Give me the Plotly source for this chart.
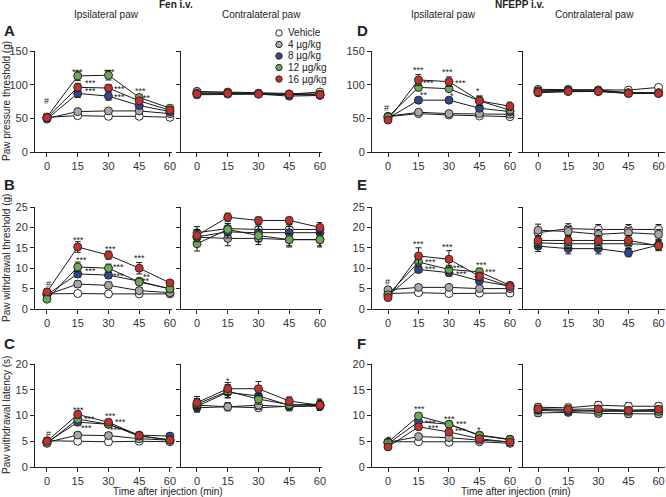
import plotly.graph_objects as go

W, H = 666, 497

times = [0, 15, 30, 45, 60]
tick_labels = ["0", "15", "30", "45", "60"]
groups = ["Vehicle", "4 µg/kg", "8 µg/kg", "12 µg/kg", "16 µg/kg"]
colors = ["#ffffff", "#a8a8a8", "#34458f", "#6aaa52", "#c4302b"]

# ---- Fen i.v. ----
A_ipsi = [[51.5, 54, 53, 53, 51.5], [50, 60, 61, 61, 57], [49, 87, 83, 69, 60],
          [52, 113, 114, 81, 65], [51, 96, 95, 76, 62]]
A_ipsi_err = [[2, 2, 2, 2, 2], [2, 3, 3, 3, 2], [2, 6, 6, 4, 3], [3, 7, 7, 4, 3], [3, 6, 5, 4, 3]]
A_contra = [[88, 87, 87, 86, 89], [90, 89, 87, 86, 86], [85, 86, 86, 83, 84],
            [87, 88, 87, 85, 85], [86, 87, 86, 86, 85]]
A_contra_err = [[3, 3, 3, 3, 3], [3, 3, 3, 3, 3], [3, 3, 3, 3, 3], [3, 3, 3, 3, 3], [3, 3, 3, 3, 3]]

B_ipsi = [[3.7, 3.8, 3.7, 3.7, 3.7], [3.5, 6.1, 5.8, 4.5, 4.0], [3.5, 8.6, 8.3, 6.8, 4.9],
          [2.4, 10.3, 10.0, 6.6, 5.0], [4.2, 15.2, 13.2, 10.0, 6.4]]
B_ipsi_err = [[0.3, 0.3, 0.3, 0.3, 0.3], [0.4, 0.8, 0.8, 0.6, 0.4], [0.5, 0.9, 0.8, 0.7, 0.5],
              [0.4, 1.2, 1.0, 0.7, 0.5], [0.5, 1.3, 1.0, 1.4, 0.6]]
B_contra = [[18.7, 19.7, 19.5, 19.5, 19.5], [17.6, 17.3, 17.3, 17.0, 17.0], [17.7, 18.9, 18.7, 18.7, 18.7],
            [16.0, 19.5, 18.0, 17.0, 17.0], [18.0, 22.5, 21.7, 21.7, 20.0]]
B_contra_err = [[1.5, 1.2, 1.2, 1.2, 1.2], [1.5, 1.8, 1.5, 1.8, 1.8], [1.5, 1.5, 1.5, 1.5, 1.5],
                [1.8, 1.5, 1.5, 1.5, 1.5], [1.5, 1.0, 0.8, 0.8, 1.2]]

C_ipsi = [[5.1, 5.0, 4.9, 5.0, 4.9], [4.8, 6.2, 6.1, 5.5, 5.2], [4.8, 8.7, 8.3, 6.2, 6.0],
          [4.6, 9.3, 8.3, 6.0, 5.3], [5.0, 10.2, 8.7, 6.1, 5.2]]
C_ipsi_err = [[0.3, 0.3, 0.3, 0.3, 0.3], [0.4, 0.5, 0.5, 0.4, 0.3], [0.4, 0.6, 0.5, 0.5, 0.4],
              [0.4, 0.6, 0.5, 0.5, 0.4], [0.4, 0.7, 0.5, 0.6, 0.4]]
C_contra = [[11.5, 11.7, 11.5, 11.8, 11.8], [12.0, 11.7, 12.0, 11.7, 12.0], [11.8, 14.5, 13.8, 12.0, 12.2],
            [12.2, 14.7, 13.2, 12.1, 12.0], [12.5, 15.2, 15.2, 12.8, 12.0]]
C_contra_err = [[0.8, 0.6, 0.6, 0.6, 0.8], [1.3, 0.8, 0.8, 0.8, 1.0], [0.8, 1.0, 1.0, 0.8, 1.0],
                [0.8, 1.3, 1.0, 0.8, 0.8], [1.2, 1.2, 1.4, 0.8, 0.8]]

# ---- NFEPP i.v. ----
D_ipsi = [[52.5, 57, 55, 53.5, 52.5], [53, 59, 57, 57, 56], [50, 77, 77, 65, 60],
          [52, 96, 94, 76, 62], [47.5, 107, 104.5, 76, 68]]
D_ipsi_err = [[2, 2, 2, 2, 2], [2, 3, 2, 2, 2], [3, 4, 3, 4, 3], [3, 5, 4, 7, 4], [3, 8, 7, 7, 6]]
D_contra = [[93, 93, 92, 92, 96], [91, 92, 92, 88, 88], [88, 90, 90, 87, 87],
            [90, 91, 91, 88, 88], [89, 90, 90, 87, 87]]
D_contra_err = [[3, 3, 3, 3, 3], [3, 3, 3, 3, 3], [3, 3, 3, 3, 3], [3, 3, 3, 3, 3], [3, 3, 3, 3, 3]]

E_ipsi = [[3.8, 4.0, 3.8, 3.9, 3.9], [4.7, 5.3, 5.3, 5.0, 5.0], [3.2, 9.7, 8.9, 6.9, 5.6],
          [3.5, 11.5, 9.7, 9.1, 5.8], [2.8, 13.0, 12.2, 8.0, 5.5]]
E_ipsi_err = [[0.3, 0.3, 0.3, 0.3, 0.3], [0.4, 0.5, 0.5, 0.4, 0.4], [0.4, 0.8, 0.8, 0.7, 0.5],
              [0.4, 1.0, 1.0, 0.9, 0.5], [0.4, 2.0, 2.1, 1.0, 0.6]]
E_contra = [[18.7, 19.7, 19.5, 19.5, 19.5], [19.3, 19.0, 18.3, 18.7, 18.3], [15.4, 14.8, 14.8, 13.8, 15.7],
            [16.2, 16.0, 16.0, 16.0, 15.7], [16.8, 16.8, 16.8, 16.8, 15.5]]
E_contra_err = [[1.2, 1.2, 1.2, 1.2, 1.2], [1.5, 1.2, 1.2, 1.2, 1.2], [1.3, 1.3, 1.3, 1.0, 1.2],
                [1.2, 1.2, 1.2, 1.2, 1.2], [1.2, 1.2, 1.2, 1.2, 1.2]]

F_ipsi = [[4.9, 4.9, 4.8, 4.9, 4.6], [4.8, 5.9, 5.7, 5.2, 4.9], [4.5, 8.8, 8.3, 6.2, 5.4],
          [4.8, 9.9, 8.3, 6.1, 5.3], [3.9, 7.8, 6.8, 5.5, 4.8]]
F_ipsi_err = [[0.3, 0.3, 0.3, 0.3, 0.3], [0.3, 0.4, 0.4, 0.3, 0.3], [0.3, 0.5, 0.4, 0.4, 0.3],
              [0.3, 0.6, 0.4, 0.4, 0.3], [0.3, 0.5, 0.4, 0.4, 0.3]]
F_contra = [[11.6, 11.5, 12.0, 11.8, 11.8], [10.5, 10.6, 10.4, 10.3, 10.3], [11.0, 10.8, 11.0, 11.0, 11.0],
            [11.2, 11.0, 10.8, 10.8, 10.8], [11.3, 11.2, 11.3, 11.0, 11.2]]
F_contra_err = [[0.7, 0.7, 0.7, 0.7, 0.7], [0.6, 0.6, 0.6, 0.6, 0.6], [0.6, 0.6, 0.6, 0.6, 0.6],
                [0.6, 0.6, 0.6, 0.6, 0.6], [0.6, 0.6, 0.6, 0.6, 0.6]]

# significance labels: (x, y, text) in data units of each panel
A_sig = [(0, 76, "#"), (15, 119, "***"), (21, 102, "***"), (21, 90, "***"), (30.5, 119, "***"),
         (35.5, 94, "***"), (35.5, 81, "***"), (45.5, 90, "***"), (49, 80, "**")]
B_sig = [(0.5, 6.2, "#"), (15.5, 16.8, "***"), (17, 12.1, "***"), (21, 9.4, "***"), (31, 14.8, "***"),
         (35, 10.3, "***"), (35, 8.0, "***"), (45, 12.5, "***"), (49, 7.9, "**"), (48.5, 6.9, "**")]
C_sig = [(0.5, 6.5, "#"), (15.5, 11.0, "***"), (20.5, 9.4, "***"), (19.5, 7.6, "***"), (31, 9.9, "***"),
         (35.8, 8.7, "***"), (33.5, 7.1, "***")]
C_contra_sig = [(15, 16.7, "*")]
D_sig = [(-0.5, 66, "#"), (15, 122, "***"), (20, 102, "***"), (17.5, 85, "**"), (29.5, 119, "***"),
         (35.5, 102, "***"), (31.5, 83, "*"), (44.5, 90, "*")]
E_sig = [(0, 6.7, "#"), (15, 16.0, "***"), (20.8, 11.6, "***"), (20.8, 9.9, "***"), (29.5, 15.1, "***"),
         (34.6, 10.1, "***"), (36.3, 8.6, "***"), (46, 10.8, "***"), (50.3, 9.1, "***"), (43.5, 7.5, "*")]
F_sig = [(0.4, 5.5, "#"), (15.3, 11.2, "***"), (20.8, 8.6, "***"), (22.3, 7.6, "***"), (30.3, 9.4, "***"),
         (36, 8.3, "***"), (35.5, 7.0, "***"), (45, 7.2, "*")]

panels = [
    (A_ipsi, A_ipsi_err, A_sig), (A_contra, A_contra_err, []),
    (D_ipsi, D_ipsi_err, D_sig), (D_contra, D_contra_err, []),
    (B_ipsi, B_ipsi_err, B_sig), (B_contra, B_contra_err, []),
    (E_ipsi, E_ipsi_err, E_sig), (E_contra, E_contra_err, []),
    (C_ipsi, C_ipsi_err, C_sig), (C_contra, C_contra_err, C_contra_sig),
    (F_ipsi, F_ipsi_err, F_sig), (F_contra, F_contra_err, []),
]

row_ranges = [[0, 150], [0, 25], [0, 20]]
row_ticks = [[0, 50, 100, 150], [0, 5, 10, 15, 20, 25], [0, 5, 10, 15, 20]]

# layout geometry (pixels)
col_px = [(35, 172), (181, 322), (372, 512), (523, 665)]
col_xr = [[-5.85, 61.0], [-7.8, 61.0], [-7.87, 61.0], [-7.5, 63.2]]
row_px = [(51, 152), (207, 309), (364, 467)]

def pxx(x):
    return x / W

def pxy(y):
    return 1 - y / H

FONT = "Arial, Liberation Sans, Helvetica, sans-serif"
AX = "#222222"

fig = go.Figure()
layout = dict(
    width=W, height=H, margin=dict(l=0, r=0, t=0, b=0, autoexpand=False),
    paper_bgcolor="white", plot_bgcolor="white", showlegend=False,
    font=dict(family=FONT, color="#222", size=10),
)
annotations = []
shapes = []

for i, (vals, errs, sig) in enumerate(panels):
    r, c = divmod(i, 4)
    n = i + 1
    xa = "x" if n == 1 else f"x{n}"
    ya = "y" if n == 1 else f"y{n}"
    for g in range(5):
        fig.add_trace(go.Scatter(
            x=times, y=vals[g], xaxis=xa, yaxis=ya, mode="lines+markers",
            line=dict(color="#1a1a1a", width=1),
            marker=dict(size=8, color=colors[g], line=dict(color="#2a2a2a", width=1)),
            error_y=dict(type="data", array=errs[g], color="#1a1a1a", thickness=1, width=3),
            name=groups[g], cliponaxis=False, showlegend=False,
        ))
    x0, x1 = col_px[c]
    y0, y1 = row_px[r]
    layout[f"xaxis{'' if n == 1 else n}"] = dict(
        domain=[pxx(x0), pxx(x1)], range=col_xr[c], anchor=ya, automargin=False,
        showline=True, linecolor=AX, linewidth=1, ticks="outside", ticklen=4, tickwidth=1,
        tickcolor=AX, tickvals=times, ticktext=tick_labels, showgrid=False, zeroline=False,
        tickfont=dict(size=11, color="#333", family=FONT),
    )
    layout[f"yaxis{'' if n == 1 else n}"] = dict(
        domain=[pxy(y1), pxy(y0)], range=row_ranges[r], anchor=xa, automargin=False,
        showline=True, linecolor=AX, linewidth=1, ticks="outside", ticklen=4, tickwidth=1,
        tickcolor=AX, tickvals=row_ticks[r], showgrid=False, zeroline=False,
        showticklabels=(c % 2 == 0),
        tickfont=dict(size=11, color="#333", family=FONT),
    )
    for (sx, sy, st) in sig:
        annotations.append(dict(
            x=sx, y=sy, xref=xa, yref=ya, text=st, showarrow=False,
            font=dict(size=9, color="#222", family=FONT), xanchor="center", yanchor="middle",
        ))

def add_text(x, y, text, size=10, bold=False, angle=0, xanchor="center"):
    annotations.append(dict(
        x=pxx(x), y=pxy(y), xref="paper", yref="paper", showarrow=False,
        text=f"<b>{text}</b>" if bold else text, textangle=angle,
        font=dict(size=size, color="#222", family=FONT), xanchor=xanchor, yanchor="middle",
    ))

# group titles
add_text(176, 5, "Fen i.v.", size=10, bold=True)
add_text(519, 5, "NFEPP i.v.", size=10, bold=True)
add_text(107, 15, "Ipsilateral paw")
add_text(261, 15, "Contralateral paw")
add_text(443, 15, "Ipsilateral paw")
add_text(594, 15, "Contralateral paw")

# panel letters
for letter, (lx, ly) in zip("ABCDEF", [(2, 31), (2, 184), (2, 343), (355, 31), (355, 184), (355, 343)]):
    add_text(lx, ly, letter, size=15, bold=True, xanchor="left")

# y titles
add_text(6, 101, "Paw pressure threshold (g)", angle=-90)
add_text(6, 258, "Paw withdrawal threshold (g)", angle=-90)
add_text(6, 415, "Paw withdrawal latency (s)", angle=-90)

# x titles
add_text(168, 491, "Time after injection (min)")
add_text(516, 491, "Time after injection (min)")

# legend
leg_y = [33, 44.5, 56, 67.5, 79]
for g in range(5):
    shapes.append(dict(
        type="circle", xref="paper", yref="paper", xsizemode="pixel", ysizemode="pixel",
        xanchor=pxx(279), yanchor=pxy(leg_y[g]), x0=-3.2, x1=3.2, y0=-3.2, y1=3.2,
        fillcolor=colors[g], line=dict(color="#2a2a2a", width=1),
    ))
    add_text(286, leg_y[g], groups[g], size=10, xanchor="left")

layout["annotations"] = annotations
layout["shapes"] = shapes
fig.update_layout(**layout)
fig.write_html(
    "out.html",
    config={"displayModeBar": False, "staticPlot": True},
    post_script="document.body.style.margin='0';document.body.style.overflow='hidden';",
)
